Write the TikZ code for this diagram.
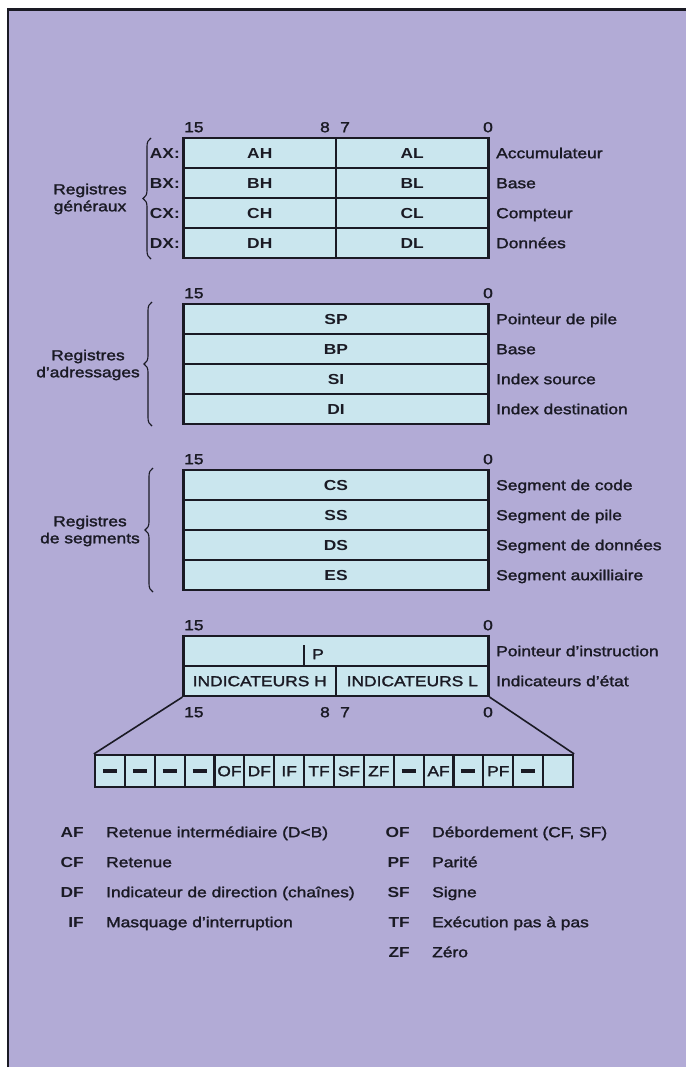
\documentclass[tikz,border=0pt]{standalone}
\usepackage{fontspec}
\setmainfont{Liberation Sans}[FakeStretch=1.2, UprightFeatures={FakeBold=1.8}]
\usetikzlibrary{decorations.pathreplacing}
\definecolor{lilac}{RGB}{178,171,214}
\definecolor{cellblue}{RGB}{202,230,238}
\definecolor{ink}{RGB}{26,26,36}
\newcommand\flagbar{\rule[3.6pt]{14pt}{3.2pt}}

\begin{document}
\fontsize{14.5}{17}\selectfont
\begin{tikzpicture}[x=1pt, y=-1pt, color=ink,
    lbl/.style={inner sep=0pt, text height=10.4pt, text depth=0pt},
    cell/.style={lbl, draw=ink, fill=cellblue, line width=2.2pt, minimum height=30pt},
    half/.style={cell, minimum width=152.5pt, font=\bfseries},
    full/.style={cell, minimum width=305pt, font=\bfseries},
    plainhalf/.style={cell, minimum width=152.5pt},
    flag/.style={cell, minimum width=29.875pt, minimum height=32pt},
    desc/.style={lbl, anchor=west},
    bitno/.style={lbl},
    reg/.style={lbl, anchor=east, font=\bfseries},
    key/.style={lbl, anchor=east, font=\bfseries},
    group/.style={inner sep=0pt, align=center},
    curly/.style={decorate, decoration={brace, amplitude=8pt}, line width=1.1pt}]
    \useasboundingbox (0,0) rectangle (686,1068);
    % fond et cadre
    \fill[lilac] (8,9.5) rectangle (686,1067);
    \draw[line width=2.5pt] (8,1067) -- (8,9.5) -- (686,9.5);

    % registres generaux
    \node[bitno, anchor=west] (g15) at (184,127) {15};
    \node[bitno, anchor=east] (g8) at (330,127) {8};
    \node[bitno, anchor=west] (g7) at (340,127) {7};
    \node[bitno] (g0) at (488,127) {0};
    \foreach \r/\txt [count=\i from 0] in {A/Accumulateur, B/Base, C/Compteur, D/Données} {
        \node[half] (\r H) at (259.75,{153+30*\i}) {\r H};
        \node[half] (\r L) at (412.25,{153+30*\i}) {\r L};
        \node[reg] (\r X) at (180,{153+30*\i}) {\r X:};
        \node[desc] (\r d) at (496,{153+30*\i}) {\txt};
    }
    \draw[curly] (151,259) -- (151,138);
    \node[group] (gen) at (90,199) {Registres\\généraux};

    % registres d'adressage
    \node[bitno, anchor=west] (a15) at (184,293) {15};
    \node[bitno] (a0) at (488,293) {0};
    \foreach \r/\txt [count=\i from 0] in {SP/Pointeur de pile, BP/Base, SI/Index source, DI/Index destination} {
        \node[full] (\r) at (336,{319+30*\i}) {\r};
        \node[desc] (\r d) at (496,{319+30*\i}) {\txt};
    }
    \draw[curly] (152,426) -- (152,302);
    \node[group] (adr) at (88,365) {Registres\\d’adressages};

    % registres de segments
    \node[bitno, anchor=west] (s15) at (184,459) {15};
    \node[bitno] (s0) at (488,459) {0};
    \foreach \r/\txt [count=\i from 0] in {CS/Segment de code, SS/Segment de pile, DS/Segment de données, ES/Segment auxilliaire} {
        \node[full] (\r) at (336,{485+30*\i}) {\r};
        \node[desc] (\r d) at (496,{485+30*\i}) {\txt};
    }
    \draw[curly] (153,592) -- (153,468);
    \node[group] (seg) at (90,531) {Registres\\de segments};

    % pointeur d'instruction et indicateurs
    \node[bitno, anchor=west] (i15) at (184,625) {15};
    \node[bitno] (i0) at (488,625) {0};
    \node[full] (ip) at (336,651) {};
    \draw[line width=1.1pt] (304,645) -- (304,666);
    \node[lbl, anchor=west] (ipP) at (312,654) {P};
    \node[plainhalf] (indH) at (259.75,681) {INDICATEURS H};
    \node[plainhalf] (indL) at (412.25,681) {INDICATEURS L};
    \node[desc] (ipd) at (496,651) {Pointeur d’instruction};
    \node[desc] (indd) at (496,681) {Indicateurs d’état};
    \node[bitno, anchor=west] (f15n) at (184,712) {15};
    \node[bitno, anchor=east] (f8n) at (330,712) {8};
    \node[bitno, anchor=west] (f7n) at (340,712) {7};
    \node[bitno] (f0n) at (488,712) {0};

    % registre des indicateurs
    \foreach \f [count=\i from 0] in {\flagbar,\flagbar,\flagbar,\flagbar,OF,DF,IF,TF,SF,ZF,\flagbar,AF,\flagbar,PF,\flagbar,{}} {
        \node[flag] (f\i) at ({95+29.875*(\i+0.5)},771) {\f};
    }
    \draw[line width=1.6pt] (indH.south west) -- (f0.north west);
    \draw[line width=1.6pt] (indL.south east) -- (f15.north east);

    % legende
    \foreach \k/\txt [count=\i from 0] in {AF/Retenue intermédiaire (D<B), CF/Retenue, DF/Indicateur de direction (chaînes), IF/Masquage d’interruption} {
        \node[key] (k\k) at (84,{832+30*\i}) {\k};
        \node[desc] (t\k) at (106,{832+30*\i}) {\txt};
    }
    \foreach \k/\txt [count=\i from 0] in {{OF/Débordement (CF, SF)}, PF/Parité, SF/Signe, TF/Exécution pas à pas, ZF/Zéro} {
        \node[key] (k\k) at (410,{832+30*\i}) {\k};
        \node[desc] (t\k) at (432,{832+30*\i}) {\txt};
    }
\end{tikzpicture}
\end{document}
